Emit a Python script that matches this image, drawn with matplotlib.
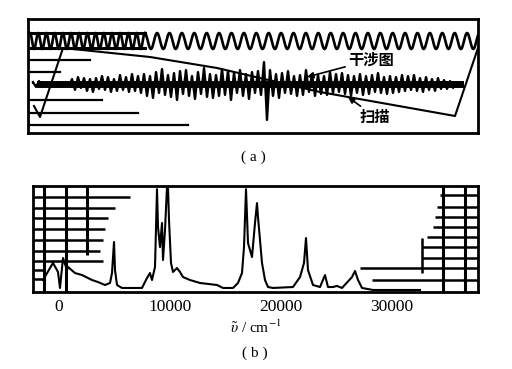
import numpy as np
import matplotlib
matplotlib.use("Agg")
import matplotlib.pyplot as plt
from matplotlib.lines import Line2D

plt.rcParams['font.family'] = ['Liberation Serif', 'Noto Sans CJK SC', 'DejaVu Sans']
plt.rcParams['mathtext.fontset'] = 'stix'

W, H = 512, 369

# ---------------- data: (b) spectrum ----------------
wavenumber = [-1441, -811, -541, -90, 90, 360, 721, 811, 1441, 2072, 2973, 3514, 4144, 4595,
              4775, 4955, 5045, 5225, 5676, 7477, 7928, 8198, 8378, 8649, 8829, 8919, 9099,
              9279, 9369, 9550, 9730, 9820, 9910, 10090, 10270, 10631, 10901, 11171, 11802,
              12703, 14234, 14775, 15676, 16126, 16486, 16667, 16847, 17027, 17387, 17658,
              17838, 17928, 18288, 18559, 18829, 19279, 21081, 21712, 22072, 22252, 22432,
              22883, 23514, 23964, 24234, 24685, 25045, 25495, 26396, 26667, 26937, 27297,
              28288, 32522]
intensity = [11.3, 22.6, 27.4, 18.9, 3.8, 32.1, 20.7, 23.6, 17.9, 16.0, 11.3, 9.4, 6.6, 8.5,
             17.9, 47.2, 20.7, 6.6, 3.8, 3.8, 13.2, 17.9, 11.3, 23.6, 97.0, 61.3, 42.4,
             65.1, 30.2, 58.5, 99.0, 99.0, 67.9, 27.4, 18.9, 22.6, 18.9, 14.1, 11.3,
             8.5, 6.6, 3.8, 3.8, 8.5, 17.9, 42.4, 97.0, 46.2, 33.0, 65.1,
             83.9, 70.7, 27.4, 11.3, 4.7, 3.8, 4.7, 14.1, 27.4, 50.9, 20.7,
             6.6, 4.7, 16.0, 4.7, 4.7, 5.7, 3.8, 14.1, 19.8, 11.3, 3.8,
             1.9, 1.9]
xticks = [0, 10000, 20000, 30000]
xticklabels = ['0', '10000', '20000', '30000']

# ---------------- data: (a) interferogram (schematic) ----------------
interferogram = [2, -3, 3, -2, 1,
                 0, 1, -1, 0, 1, -1, 2, -2,
                 5, -6, 7, -4, 6, -7, 5, -8, 6, -5, 8, -6, 7, -8, 5, -7, 9, -6, 7, -8, 10, -7, 8, -9,
                 10, -12, 8, -14, 12, -9, 15, -11, 9, -13, 11, -16, 13, -10, 14, -12, 8, -15, 12, -10,
                 16, -13, 10, -14, 9, -12, 15, -11, 13, -16, 11, -9, 14, -12, 10, -15, 12, -9, 13, -11,
                 22, -36, 14,
                 -12, 10, -14, 11, -9, 13, -10, 8, -12, 9, -11, 14, -8, 10, -12, 9, -10, 8, -11, 12,
                 -9, 10, -8, 11, -10, 9, -12, 8, -9, 10, -11, 8, -10, 9, -8, 11, -9, 7, -10, 8,
                 -9, 7, -8, 9, -7, 8, -6, 9, -7, 6, -8, 7, -6, 5, -7, 6, -5, 4, -5, 3, -4, 2, -1, 0]
interf_start, interf_end, interf_base = 33, 462, 84
# scan (sawtooth) path vertices
scan_x = [34, 40, 63, 150, 217, 320, 455, 478]
scan_y = [106, 117, 48, 57, 68, 92, 116, 48]
# reference laser: segments (start, end, period)
laser_segments = [(30, 145, 8.2), (145, 478, 12.4)]
laser_center, laser_amp = 41, 8

fig = plt.figure(figsize=(W / 100, H / 100), dpi=100)
fig.patch.set_facecolor('white')


def px_axes(x0, y0, x1, y1):
    return fig.add_axes([x0 / W, 1 - y1 / H, (x1 - x0) / W, (y1 - y0) / H])


def fig_line(xs, ys, lw=1.6):
    fig.add_artist(Line2D([x / W for x in xs], [1 - y / H for y in ys],
                          transform=fig.transFigure, color='black', lw=lw,
                          solid_capstyle='butt'))


# ---------------- panel (a) ----------------
axa = px_axes(28, 19, 478, 133)
axa.set_xlim(28, 478)
axa.set_ylim(133, 19)
axa.set_xticks([])
axa.set_yticks([])
for s in axa.spines.values():
    s.set_linewidth(2.0)

# laser wave
phase = 0.0
for (a, b, p) in laser_segments:
    xs = np.linspace(a, b, 600)
    ys = laser_center - laser_amp * np.cos(phase + 2 * np.pi * (xs - a) / p)
    phase += 2 * np.pi * (b - a) / p
    axa.plot(xs, ys, color='black', lw=1.9)
axa.plot([28, 145], [33, 33], color='black', lw=2.2)
axa.plot([28, 145], [48, 48], color='black', lw=2.2)

# interferogram
ix = np.linspace(interf_start, interf_end, len(interferogram))
iy = interf_base - np.array(interferogram, dtype=float)
axa.plot(ix, iy, color='black', lw=1.6)
axa.vlines(ix, interf_base, iy, color='black', lw=1.6)
axa.plot([40, 460], [interf_base, interf_base], color='black', lw=5)

# scan
axa.plot(scan_x, scan_y, color='black', lw=1.5)

# scanner artifact lines
for (y, x1) in [(60, 90), (72, 60), (100, 102), (113, 138), (125, 188)]:
    axa.plot([28, x1], [y, y], color='black', lw=1.6)

axa.annotate('干涉图', xy=(307, 77), xytext=(348, 60), fontsize=11, fontweight='bold',
             family=['Noto Sans CJK SC'], va='center', ha='left',
             arrowprops=dict(arrowstyle='-|>', color='black', lw=1.2, mutation_scale=9,
                             shrinkA=0, shrinkB=0))
axa.annotate('扫描', xy=(348, 97), xytext=(360, 117), fontsize=11, fontweight='bold',
             family=['Noto Sans CJK SC'], va='center', ha='left',
             arrowprops=dict(arrowstyle='-|>', color='black', lw=1.2, mutation_scale=9,
                             shrinkA=0, shrinkB=0))

fig.text(253 / W, 1 - 157 / H, '( a )', ha='center', va='center', fontsize=11)

# ---------------- panel (b) ----------------
axb = px_axes(33, 186, 478, 292)
axb.set_xlim((33 - 59) * 90.09, (478 - 59) * 90.09)
axb.set_ylim(0, 100)
axb.plot(wavenumber, intensity, color='black', lw=1.5)
axb.set_yticks([])
axb.set_xticks(xticks)
axb.set_xticklabels(xticklabels, fontsize=12.5)
axb.tick_params(axis='x', length=0, pad=5)
for s in axb.spines.values():
    s.set_linewidth(2.0)
axb.set_xlabel(r'$\tilde{\upsilon}$ / cm$^{-1}$', fontsize=11, labelpad=3)

# scanner artifact grid lines (left)
for xv in (44, 66):
    fig_line([xv, xv], [186, 292], lw=2.2)
fig_line([87, 87], [186, 255], lw=2.2)
for (y, x1) in [(197, 130), (208, 115), (218, 108), (229, 105), (240, 103), (251, 100),
                (261, 103), (270, 45), (279, 45)]:
    fig_line([33, x1], [y, y], lw=1.8)
# right
for xv in (443, 465):
    fig_line([xv, xv], [186, 292], lw=2.2)
fig_line([422, 422], [238, 273], lw=1.8)
for (y, x0) in [(195, 440), (207, 437), (217, 435), (227, 433), (237, 427), (247, 422),
                (258, 422), (268, 360), (280, 372)]:
    fig_line([x0, 478], [y, y], lw=1.8)

fig.text(255 / W, 1 - 353 / H, '( b )', ha='center', va='center', fontsize=11)

fig.savefig('out.png', dpi=100, facecolor='white')
